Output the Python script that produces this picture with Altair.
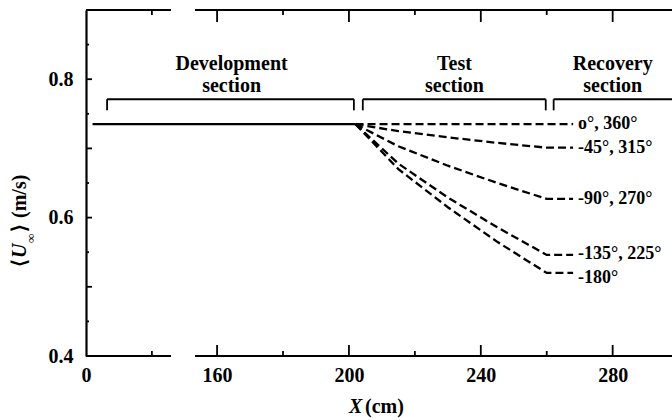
import altair as alt
import pandas as pd

# ---------------- data ----------------
x_solid = [2, 202]
u_solid = [0.735, 0.735]

x_dash = [202, 215, 230, 245, 260, 268]
u_0 = [0.735, 0.735, 0.735, 0.735, 0.735, 0.735]
u_45 = [0.735, 0.725, 0.716, 0.708, 0.701, 0.701]
u_90 = [0.735, 0.703, 0.675, 0.650, 0.627, 0.627]
u_135 = [0.735, 0.678, 0.629, 0.586, 0.546, 0.546]
u_180 = [0.735, 0.670, 0.615, 0.565, 0.520, 0.520]
series_labels = ["o°, 360°", "-45°, 315°", "-90°, 270°", "-135°, 225°", "-180°"]
label_u = [0.735, 0.701, 0.627, 0.547, 0.513]
label_x = 269.5

section_names = ["Development\nsection", "Test\nsection", "Recovery\nsection"]
section_start = [6.4, 204.2, 262.1]
section_end = [201.5, 259.7, 298]
section_center = [164.4, 232, 280]
bracket_u = 0.771
bracket_end_u = 0.755
text1_u = 0.814

x_major = [0, 160, 200, 240, 280]
x_major_ticks = [160, 200, 240, 280]
x_minor = [20, 180, 220, 260]
y_labels = [0.4, 0.6, 0.8]
y_mid = [0.5, 0.7]
y_minor = [0.45, 0.55, 0.65, 0.75, 0.85]

x_seg_start = [0, 153.3]
x_seg_end = [25.8, 298]

W, H = 586, 346
FONT = "Liberation Serif"
WEIGHT = "bold"

xs = alt.Scale(domain=[0, 25.8, 153.3, 298], range=[0, 85, 109, W], zero=False, nice=False)
ys = alt.Scale(domain=[0.4, 0.9], zero=False, nice=False)

# ---------------- tables ----------------
series_vals = [u_0, u_45, u_90, u_135, u_180]
rows = []
for lab, vals in zip(series_labels, series_vals):
    for xv, uv in zip(x_dash, vals):
        rows.append({"X": xv, "U": uv, "series": lab})
dash_df = pd.DataFrame(rows)
lab_df = pd.DataFrame({"X": [label_x] * 5, "U": label_u, "label": series_labels})
solid_df = pd.DataFrame({"X": x_solid, "U": u_solid})
sec_df = pd.DataFrame({"start": section_start, "end": section_end, "center": section_center,
                       "name": section_names})
ends_df = pd.DataFrame({"X": section_start[:2] + section_end[:2] + section_start[2:]})
seg_df = pd.DataFrame({"a": x_seg_start, "b": x_seg_end})

X = lambda f: alt.X(f, scale=xs, title=None)
Y = lambda f: alt.Y(f, scale=ys, title=None)

# ---------------- layers ----------------
base_axis = alt.Chart(pd.DataFrame({"X": x_major, "U": [0.4, 0.6, 0.8, 0.4, 0.4]})).mark_point(opacity=0).encode(
    x=alt.X("X:Q", scale=xs, axis=alt.Axis(values=x_major, ticks=False, domain=False, grid=False,
                                           labelFlush=False, labelPadding=9, labelFont=FONT,
                                           labelFontWeight=WEIGHT,
                                           labelFontSize=20, labelColor="black", title=None)),
    y=alt.Y("U:Q", scale=ys, axis=alt.Axis(values=y_labels, format=".1f", ticks=False, domain=True,
                                           domainColor="black", domainWidth=2.2, grid=False,
                                           labelFlush=False, labelPadding=13, labelFont=FONT,
                                           labelFontWeight=WEIGHT,
                                           labelFontSize=20, labelColor="black", title=None)),
)

solid = alt.Chart(solid_df).mark_line(color="black", strokeWidth=2.3).encode(x=X("X:Q"), y=Y("U:Q"))

dashed = alt.Chart(dash_df).mark_line(color="black", strokeWidth=2.3, strokeDash=[8, 4]).encode(
    x=X("X:Q"), y=Y("U:Q"), detail="series:N")

labels = alt.Chart(lab_df).mark_text(align="left", baseline="middle", font=FONT, fontSize=18,
                                     fontWeight=WEIGHT, color="black").encode(
    x=X("X:Q"), y=Y("U:Q"), text="label:N")

brackets = alt.Chart(sec_df).mark_rule(color="black", strokeWidth=1.8).encode(
    x=X("start:Q"), x2="end:Q", y=alt.datum(bracket_u, scale=ys, title=None))
bracket_ends = alt.Chart(ends_df).mark_rule(color="black", strokeWidth=1.8).encode(
    x=X("X:Q"), y=alt.datum(bracket_u, scale=ys, title=None), y2=alt.datum(bracket_end_u))

sec_text = alt.Chart(sec_df).mark_text(align="center", baseline="alphabetic", font=FONT, fontSize=20,
                                       fontWeight=WEIGHT, color="black", lineBreak="\n",
                                       lineHeight=22).encode(
    x=X("center:Q"), y=alt.datum(text1_u, scale=ys, title=None), text="name:N")

# axis lines (broken) top and bottom
bottom_line = alt.Chart(seg_df).mark_rule(color="black", strokeWidth=2.2).encode(
    x=X("a:Q"), x2="b:Q", y=alt.value(H))
top_line = alt.Chart(seg_df).mark_rule(color="black", strokeWidth=2.2).encode(
    x=X("a:Q"), x2="b:Q", y=alt.value(0))

# ticks
xmaj_df = pd.DataFrame({"X": x_major_ticks})
xmin_df = pd.DataFrame({"X": x_minor})
tick_b_maj = alt.Chart(xmaj_df).mark_rule(color="black", strokeWidth=1.8).encode(
    x=X("X:Q"), y=alt.value(H), y2=alt.value(H - 11))
tick_b_min = alt.Chart(xmin_df).mark_rule(color="black", strokeWidth=1.8).encode(
    x=X("X:Q"), y=alt.value(H), y2=alt.value(H - 5))
tick_t_maj = alt.Chart(xmaj_df).mark_rule(color="black", strokeWidth=1.8).encode(
    x=X("X:Q"), y=alt.value(0), y2=alt.value(12))
tick_t_min = alt.Chart(xmin_df).mark_rule(color="black", strokeWidth=1.8).encode(
    x=X("X:Q"), y=alt.value(0), y2=alt.value(5))
ymid_df = pd.DataFrame({"U": y_labels + y_mid})
ymin_df = pd.DataFrame({"U": y_minor})
tick_y_mid = alt.Chart(ymid_df).mark_rule(color="black", strokeWidth=1.8).encode(
    y=Y("U:Q"), x=alt.value(0), x2=alt.value(6))
tick_y_min = alt.Chart(ymin_df).mark_rule(color="black", strokeWidth=1.8).encode(
    y=Y("U:Q"), x=alt.value(0), x2=alt.value(3))

one = pd.DataFrame({"k": [0]})


def txt(s, x, y, size=20, style="normal", angle=0, align="left", baseline="alphabetic"):
    return alt.Chart(one).mark_text(text=s, font=FONT, fontSize=size, fontStyle=style, angle=angle,
                                    fontWeight=WEIGHT, align=align, baseline=baseline,
                                    color="black").encode(x=alt.value(x), y=alt.value(y))


# axis titles
xt1 = txt("X", 263, 403, style="italic")
xt2 = txt("(cm)", 279, 403)
yt1 = txt("⟨", -66, 257, angle=270, baseline="middle")
yt2 = txt("U", -66, 248, style="italic", angle=270, baseline="middle")
yt3 = txt("∞", -55, 233, size=13, angle=270, baseline="middle")
yt4 = txt("⟩", -66, 222, angle=270, baseline="middle")
yt5 = txt("(m/s)", -66, 208, angle=270, baseline="middle")

chart = alt.layer(
    base_axis, solid, dashed, labels, brackets, bracket_ends, sec_text,
    bottom_line, top_line, tick_b_maj, tick_b_min, tick_t_maj, tick_t_min, tick_y_mid, tick_y_min,
    xt1, xt2, yt1, yt2, yt3, yt4, yt5,
).properties(
    width=W, height=H,
    padding={"left": 86, "top": 10, "right": 0, "bottom": 64},
    autosize=alt.AutoSizeParams(type="none"),
    background="white",
).configure_view(stroke=None)

chart.save("out.html", embed_options={"renderer": "svg", "actions": False})
